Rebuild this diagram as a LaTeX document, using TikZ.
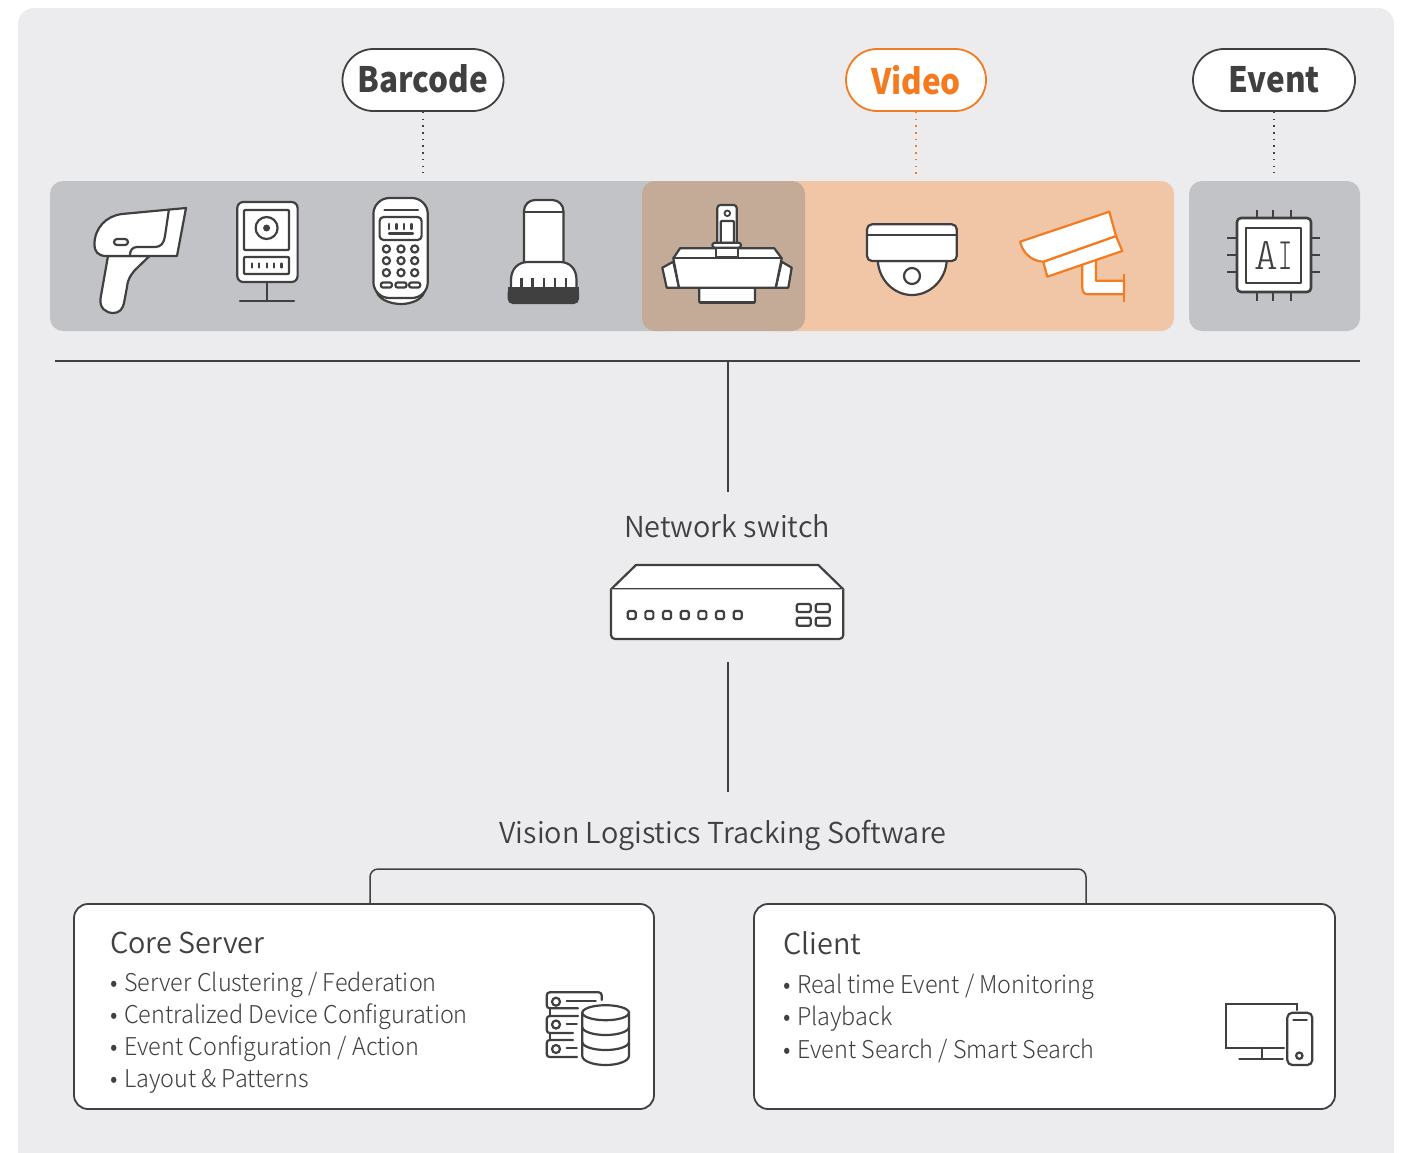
\documentclass[tikz,border=0pt]{standalone}
\usepackage{fontspec}
\setmainfont{Noto Sans CJK KR}
\newfontfamily\tagfont[FakeStretch=0.9]{Noto Sans CJK KR}
\newfontfamily\headfont{Noto Sans CJK KR DemiLight}
\newfontfamily\itemfont[FakeStretch=0.955]{Noto Sans CJK KR Light}
\newfontfamily\chipfont{Latin Modern Mono Light}
\usetikzlibrary{positioning}
\definecolor{paneback}{HTML}{ECECEE}
\definecolor{stripgray}{HTML}{C2C3C7}
\definecolor{stripbrown}{HTML}{C4AB98}
\definecolor{striporange}{HTML}{F0C6A7}
\definecolor{ink}{HTML}{404040}
\definecolor{vidorange}{HTML}{F47B20}
\newcommand{\fs}[1]{\fontsize{#1}{#1}\selectfont}
\newcommand{\dotitem}[1]{•\hspace{6.5pt}#1}
\begin{document}
\begin{tikzpicture}[x=1pt,y=-1pt,
			tag node/.style={draw=ink,line width=1.8pt,fill=white,rounded corners=31pt,minimum height=62pt,inner sep=0pt,text=ink,font=\fs{35}\tagfont\bfseries},
			box node/.style={draw=ink,line width=1.8pt,fill=white,rounded corners=14pt,minimum height=205pt,inner sep=0pt},
			title node/.style={text=ink,font=\fs{28.8}\headfont,inner sep=0pt},
			head node/.style={title node,anchor=west},
			item node/.style={text=ink,font=\fs{24.5}\itemfont,inner sep=0pt,anchor=west},
			link/.style={draw=ink,line width=1.5pt},
			hint/.style={link,line width=1.6pt,dash pattern=on 1.5pt off 5.2pt},
			icon/.style={draw=ink,line width=2.2pt,fill=white,line join=round},
			camicon/.style={draw=vidorange,line width=2.2pt,fill=white,line join=round},
			inkline/.style={draw=ink,line width=2.2pt,line cap=round}
			]

			\useasboundingbox (0,0) rectangle (1404,1152);
			\fill[paneback,rounded corners=16pt] (18,8) -- (1394,8) -- (1394,1180) -- (18,1180) -- cycle;

			% device strips
			\fill[stripgray,rounded corners=13pt] (50,181) rectangle (680,331);
			\fill[striporange,rounded corners=13pt] (760,181) rectangle (1174,331);
			\fill[stripbrown,rounded corners=13pt] (642,181) rectangle (805,331);
			\fill[stripgray,rounded corners=13pt] (1189,181) rectangle (1360,331);

			% tags
			\node[tag node,minimum width=161pt] at (423,80) (barcode) {\raisebox{2pt}{Barcode}};
			\node[tag node,minimum width=140pt,draw=vidorange,text=vidorange] at (916,80) (video) {Video};
			\node[tag node,minimum width=162pt] at (1274,80) (event) {Event};
			\coordinate (barcodeend) at (423,173);
			\coordinate (videoend) at (916,175);
			\coordinate (eventend) at (1274,173);
			\draw[hint] (barcode) -- (barcodeend);
			\draw[hint,draw=vidorange] (video) -- (videoend);
			\draw[hint] (event) -- (eventend);

			% handheld scanner
			\draw[icon] (108,256) -- (100.6,298) .. controls (99,308) and (106,313) .. (113.4,313) .. controls (119,313) and (123,309) .. (124,303) -- (127,287) .. controls (128,278) and (131,275) .. (135,270) -- (149.5,256) -- cycle;
			\draw[icon] (186,208) -- (177,256) -- (106,256) .. controls (98,256) and (94.4,251) .. (94.4,245) .. controls (94.4,228) and (106,216) .. (122,214) -- cycle;
			\draw[icon,fill=none] (169,209) -- (165,236) .. controls (164,243) and (161,247) .. (155,247) -- (137,247) .. controls (132,247) and (130,251) .. (130,255);
			\draw[icon,rounded corners=3pt] (114,239) rectangle (128,245);

			% fixed mount reader
			\draw[inkline] (266.6,282) -- (266.6,301);
			\draw[inkline] (240,301) -- (294,301);
			\draw[icon,rounded corners=6pt] (237.3,202) rectangle (297.6,282);
			\draw[icon,rounded corners=1pt] (244,210) rectangle (289,250);
			\draw[icon] (266.6,228) circle (11);
			\fill[ink] (266.6,228) circle (3.5);
			\draw[icon,rounded corners=1pt] (244,257) rectangle (289,274);
			\foreach \x in {251.8,259.2,266.6,274,281.4}
				\draw[inkline] (\x,263.5) -- (\x,267.5);

			% keypad reader
			\draw[icon] (376,288) .. controls (376,299) and (390,304) .. (401,304) .. controls (412,304) and (425,299) .. (425,288) -- cycle;
			\draw[icon,rounded corners=16pt] (373.4,198) rectangle (427.8,298);
			\draw[inkline] (384.4,210) -- (418,210);
			\draw[icon,rounded corners=4pt] (379.6,217) rectangle (421.6,240);
			\foreach \x in {389,396.5,404,411.5}
				\draw[inkline] (\x,224) -- (\x,229);
			\draw[inkline] (389,233.5) -- (413,233.5);
			\foreach \x in {386.4,401,414.7}
				\foreach \y in {249,260.7,272.7}
					\draw[icon] (\x,\y) circle (3.6);
			\foreach \x in {386.4,401,414.7}
				\draw[icon,rounded corners=2pt] (\x-5.5,282.5) rectangle (\x+5.5,287.5);

			% presentation scanner
			\draw[icon,rounded corners=11pt] (524,262) -- (524,200) -- (563.4,200) -- (563.4,262);
			\draw[inkline] (524,212) -- (563.4,212);
			\draw[icon] (511,290) -- (511,280) .. controls (511,269) and (518,262) .. (528,262) -- (560,262) .. controls (570,262) and (576.5,269) .. (576.5,280) -- (576.5,290) -- cycle;
			\foreach \x in {521.4,532.4,544,555,566}
				\draw[inkline,line cap=butt] (\x,278) -- (\x,287);
			\fill[ink,rounded corners=5pt] (507.7,287) -- (579,287) -- (579,304) -- (507.7,304) -- cycle;
			\fill[ink] (507.7,287) rectangle (579,296);

			% overhead tunnel scanner
			\draw[icon,rounded corners=3pt] (717.3,205) rectangle (736.7,246);
			\draw[icon,fill=none,rounded corners=1pt] (720.7,221) rectangle (734,243);
			\draw[icon,line width=1.8pt] (727.3,213.3) circle (2.8);
			\draw[icon] (662.3,267.7) -- (673.3,261.7) -- (679,287.7) -- (666.7,287.7) -- cycle;
			\draw[icon] (791.7,267.7) -- (781.7,261.7) -- (775.7,287.7) -- (788.3,287.7) -- cycle;
			\draw[icon,rounded corners=1pt] (699.3,287.7) rectangle (755,302.5);
			\draw[inkline,line width=2.8pt] (700,302.5) -- (754.3,302.5);
			\draw[icon] (673.3,258.3) -- (680,248.3) -- (774.3,248.3) -- (781.7,258.3) -- (775.7,287.7) -- (679,287.7) -- cycle;
			\draw[inkline] (673.3,258.3) -- (781.7,258.3);
			\draw[icon] (716,247.7) rectangle (738.3,257.3);
			\draw[icon,rounded corners=2.5pt] (712.3,242.7) rectangle (741,247.7);

			% dome camera
			\draw[icon] (877.8,261) .. controls (879,280) and (894,295) .. (912,295) .. controls (930,295) and (945.5,280) .. (946.7,261) -- cycle;
			\draw[icon] (912,276) circle (8);
			\draw[icon,rounded corners=5pt] (867,224.3) rectangle (956.8,261);
			\draw[inkline] (867,235) -- (956.8,235);

			% bullet camera
			\draw[camicon] (1082.3,262) -- (1082.3,287) .. controls (1082.3,292) and (1084,294.3) .. (1088.3,294.3) -- (1124,294.3) -- (1124,280.7) -- (1096,280.7) -- (1096,256) -- cycle;
			\draw[camicon,line cap=butt] (1124,274) -- (1124,301.7);
			\draw[camicon] (1043.3,261.7) -- (1047.3,276.7) -- (1122.3,251) -- (1116,236) -- cycle;
			\draw[camicon] (1109.3,211.7) -- (1020,241.7) .. controls (1023,253) and (1031,261) .. (1043.3,261.7) -- (1116,236) -- cycle;

			% AI chip
			\foreach \x in {1256.7,1273.4,1290.7}
				\draw[link,line width=2pt] (\x,209.5) -- (\x,301);
			\foreach \y in {238.3,255,271.7}
				\draw[link,line width=2pt] (1227.3,\y) -- (1320,\y);
			\draw[icon,line width=2.6pt,rounded corners=4pt] (1237,218) rectangle (1311,292);
			\draw[icon,line width=2.4pt] (1246,227.7) rectangle (1301,283);
			\node[inner sep=0pt,text=ink,font=\fs{45}\chipfont] at (1273.5,255.5) (chiplabel) {A\scalebox{0.6}[1]{I}};

			% main line and switch
			\coordinate (busleft) at (55,361);
			\coordinate (busright) at (1360,361);
			\coordinate (bustap) at (728,361);
			\coordinate (switchin) at (728,492);
			\coordinate (switchout) at (728,662);
			\coordinate (softin) at (728,792);
			\draw[link] (busleft) -- (busright);
			\draw[link] (bustap) -- (switchin);
			\draw[link] (switchout) -- (softin);
			\node[title node] at (727,526.5) (switchlabel) {Network switch};

			\draw[icon] (611,589.3) -- (636,565) -- (818.3,565) -- (843.3,589.3) -- cycle;
			\draw[icon,rounded corners=4pt] (611,589.3) -- (611,639) -- (843.3,639) -- (843.3,589.3);
			\foreach \i in {0,...,6}
				\draw[icon,rounded corners=1.5pt] (627.7+17.67*\i,611) rectangle +(8,8);
			\foreach \x in {796.7,815.7}
				\foreach \y in {604,617.7}
					\draw[icon,rounded corners=2pt] (\x,\y) rectangle +(14,8);

			% software
			\node[title node] at (723,835) (softlabel) {Vision Logistics Tracking Software};
			\node[box node,minimum width=580pt] at (364,1006.5) (core) {};
			\node[box node,minimum width=581pt] at (1044.5,1006.5) (client) {};
			\coordinate (corein) at (370,904);
			\coordinate (clientin) at (1086,904);
			\draw[link,rounded corners=8pt] (corein) -- (370,869) -- (1086,869) -- (clientin);

			\node[head node] at (110,943) (corehead) {Core Server};
			\node[item node] at (110,985) (core1) {\dotitem{Server Clustering / Federation}};
			\node[item node] at (110,1017) (core2) {\dotitem{Centralized Device Configuration}};
			\node[item node] at (110,1049) (core3) {\dotitem{Event Configuration / Action}};
			\node[item node] at (110,1081) (core4) {\dotitem{Layout \& Patterns}};

			\node[head node] at (783,943) (clienthead) {Client};
			\node[item node] at (783,987) (client1) {\dotitem{Real time Event / Monitoring}};
			\node[item node] at (783,1019) (client2) {\dotitem{Playback}};
			\node[item node] at (783,1051) (client3) {\dotitem{Event Search / Smart Search}};

			% server icon
			\draw[inkline,fill=none,rounded corners=3pt] (601.7,1000) -- (601.7,992.3) -- (546.7,992.3) -- (546.7,1008.3) -- (578,1008.3);
			\draw[inkline,fill=none,rounded corners=3pt] (578,1016) -- (546.7,1016) -- (546.7,1033) -- (573,1033);
			\draw[inkline,fill=none,rounded corners=3pt] (573,1040) -- (546.7,1040) -- (546.7,1057) -- (577,1057);
			\draw[inkline] (550,1008.3) -- (550,1016);
			\draw[inkline] (550,1033) -- (550,1040);
			\draw[inkline] (566.7,1000.7) -- (595.7,1000.7);
			\draw[inkline] (566.7,1024) -- (576.7,1024);
			\draw[inkline] (566.7,1048) -- (576.7,1048);
			\foreach \y in {1001.7,1024.5,1049}
				\draw[inkline] (556,\y) circle (4);
			\draw[inkline] (582.3,1012.7) -- (582.3,1056) arc[start angle=180,end angle=360,x radius=23.3,y radius=-9] -- (629,1012.7);
			\draw[inkline] (605.65,1012.7) ellipse (23.35 and 7.5);
			\draw[inkline] (582.3,1027) arc[start angle=180,end angle=360,x radius=23.3,y radius=-8];
			\draw[inkline] (582.3,1042) arc[start angle=180,end angle=360,x radius=23.3,y radius=-8];

			% client icon
			\draw[inkline,fill=none] (1297.3,1010) -- (1297.3,1004.3) -- (1225.7,1004.3) -- (1225.7,1047.7) -- (1284,1047.7);
			\draw[inkline] (1261.7,1047.7) -- (1261.7,1059);
			\draw[inkline] (1239.3,1059) -- (1282.7,1059);
			\draw[inkline,rounded corners=5pt] (1287.3,1012.7) rectangle (1312.3,1065);
			\draw[inkline] (1293.3,1020) -- (1306.7,1020);
			\draw[inkline] (1299.3,1055.7) circle (3.2);
		\end{tikzpicture}
\end{document}
